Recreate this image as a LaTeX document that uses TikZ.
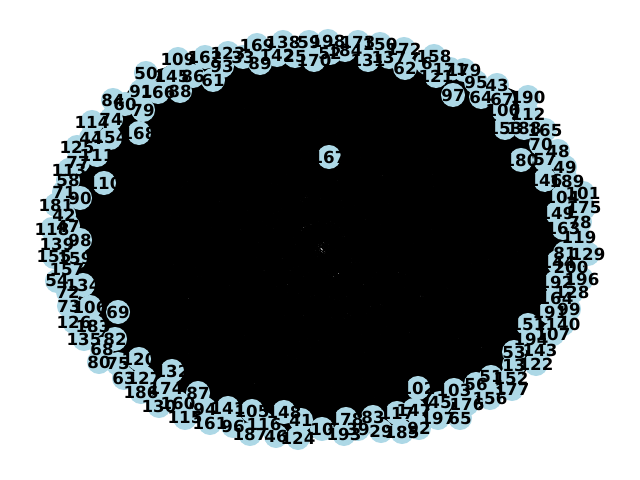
\documentclass[tikz,border=0pt]{standalone}
\usepackage{fontspec}
\setmainfont{DejaVu Sans}
\usepackage{tikz}
\usetikzlibrary{backgrounds}
\definecolor{lightblue}{RGB}{173,216,230}

\def\nodelist{109/178/59, 162/205/57, 123/228/53, 33/243/57, 169/257/45, 89/260/63, 93/222/66, 61/213/80, 142/277/55, 138/283/42,
25/295/56, 59/309/42, 170/314/60, 198/328/41, 52/330/53, 184/345/50, 173/358/42, 131/368/60, 150/380/44, 137/389/57,
172/404/49, 62/405/68, 6/427/63, 158/434/56, 121/436/76, 171/450/69, 179/464/70, 97/453/95, 95/476/82, 64/481/97,
43/497/85, 67/502/99, 190/528/97, 100/503/110, 112/528/114, 153/505/128, 188/524/128, 165/545/130, 70/541/144, 180/521/160,
57/545/160, 48/558/151, 49/565/167, 146/545/180, 189/567/181, 104/562/197, 101/583/193, 149/557/213, 175/584/208, 78/580/222,
163/563/228, 119/579/237, 81/565/253, 129/588/254, 144/558/262, 200/571/267, 192/556/282, 196/582/279, 128/572/292, 164/556/298,
99/569/309, 191/550/312, 140/563/324, 151/528/325, 107/553/334, 194/531/339, 53/514/352, 143/540/350, 13/514/365, 122/536/364,
51/491/377, 152/511/378, 177/512/389, 56/476/384, 156/490/398, 103/454/390, 176/467/404, 45/440/403, 65/460/418, 197/438/418,
102/418/388, 147/414/410, 92/419/428, 117/397/413, 185/402/432, 83/373/417, 29/381/431, 178/346/419, 39/358/429, 193/344/434,
10/322/429, 41/301/420, 124/298/438, 148/284/412, 46/276/436, 116/264/424, 187/250/434, 105/252/411, 96/233/426, 141/228/408,
161/210/423, 94/205/409, 115/185/418, 87/198/393, 160/178/403, 130/159/406, 174/166/388, 186/141/392, 132/172/371, 127/144/378,
63/124/378, 120/139/359, 75/118/364, 80/99/362, 68/102/349, 82/115/339, 135/84/339, 183/93/326, 126/74/322, 69/118/312,
106/90/307, 73/69/306, 72/68/292, 134/83/285, 54/57/281, 157/67/270, 155/54/257, 159/75/258, 139/57/244, 98/80/240,
118/52/229, 47/68/226, 42/64/215, 181/56/205, 90/80/198, 71/64/192, 58/68/180, 110/104/183, 113/69/170, 77/78/162,
111/97/155, 125/77/147, 44/91/138, 154/110/138, 168/139/133, 114/92/122, 74/111/119, 79/143/110, 84/113/100, 60/125/104,
91/141/91, 166/158/92, 88/180/91, 50/146/73, 145/172/77, 86/193/76, 167/329/157}

\begin{document}
\begin{tikzpicture}[x=0.01in, y=-0.01in,
        node_style/.style={circle,fill=lightblue,inner sep=0pt,minimum size=0.24in},
        label_style/.style={inner sep=0pt,font=\fontsize{12}{14}\selectfont\bfseries},
        edge_style/.style={draw=black, line width=1pt}]
        \useasboundingbox (0,0) rectangle (640,480);

        \foreach \lab/\x/\y [count=\i] in \nodelist {
            \node [node_style] (v\i) at (\x,\y) {};
            \xdef\nnodes{\i}
        }

        \begin{scope}[on background layer]
        \foreach \i in {1,...,\nnodes} {
            \foreach \k in {1,...,25} {
                \pgfmathtruncatemacro{\j}{mod(\i-1+6*\k,\nnodes)+1}
                \draw [edge_style] (v\i) -- (v\j);
            }
        }
        \end{scope}

        \foreach \lab/\x/\y [count=\i] in \nodelist {
            \node [label_style] (t\i) at (v\i) {\lab};
        }

        \end{tikzpicture}
\end{document}
